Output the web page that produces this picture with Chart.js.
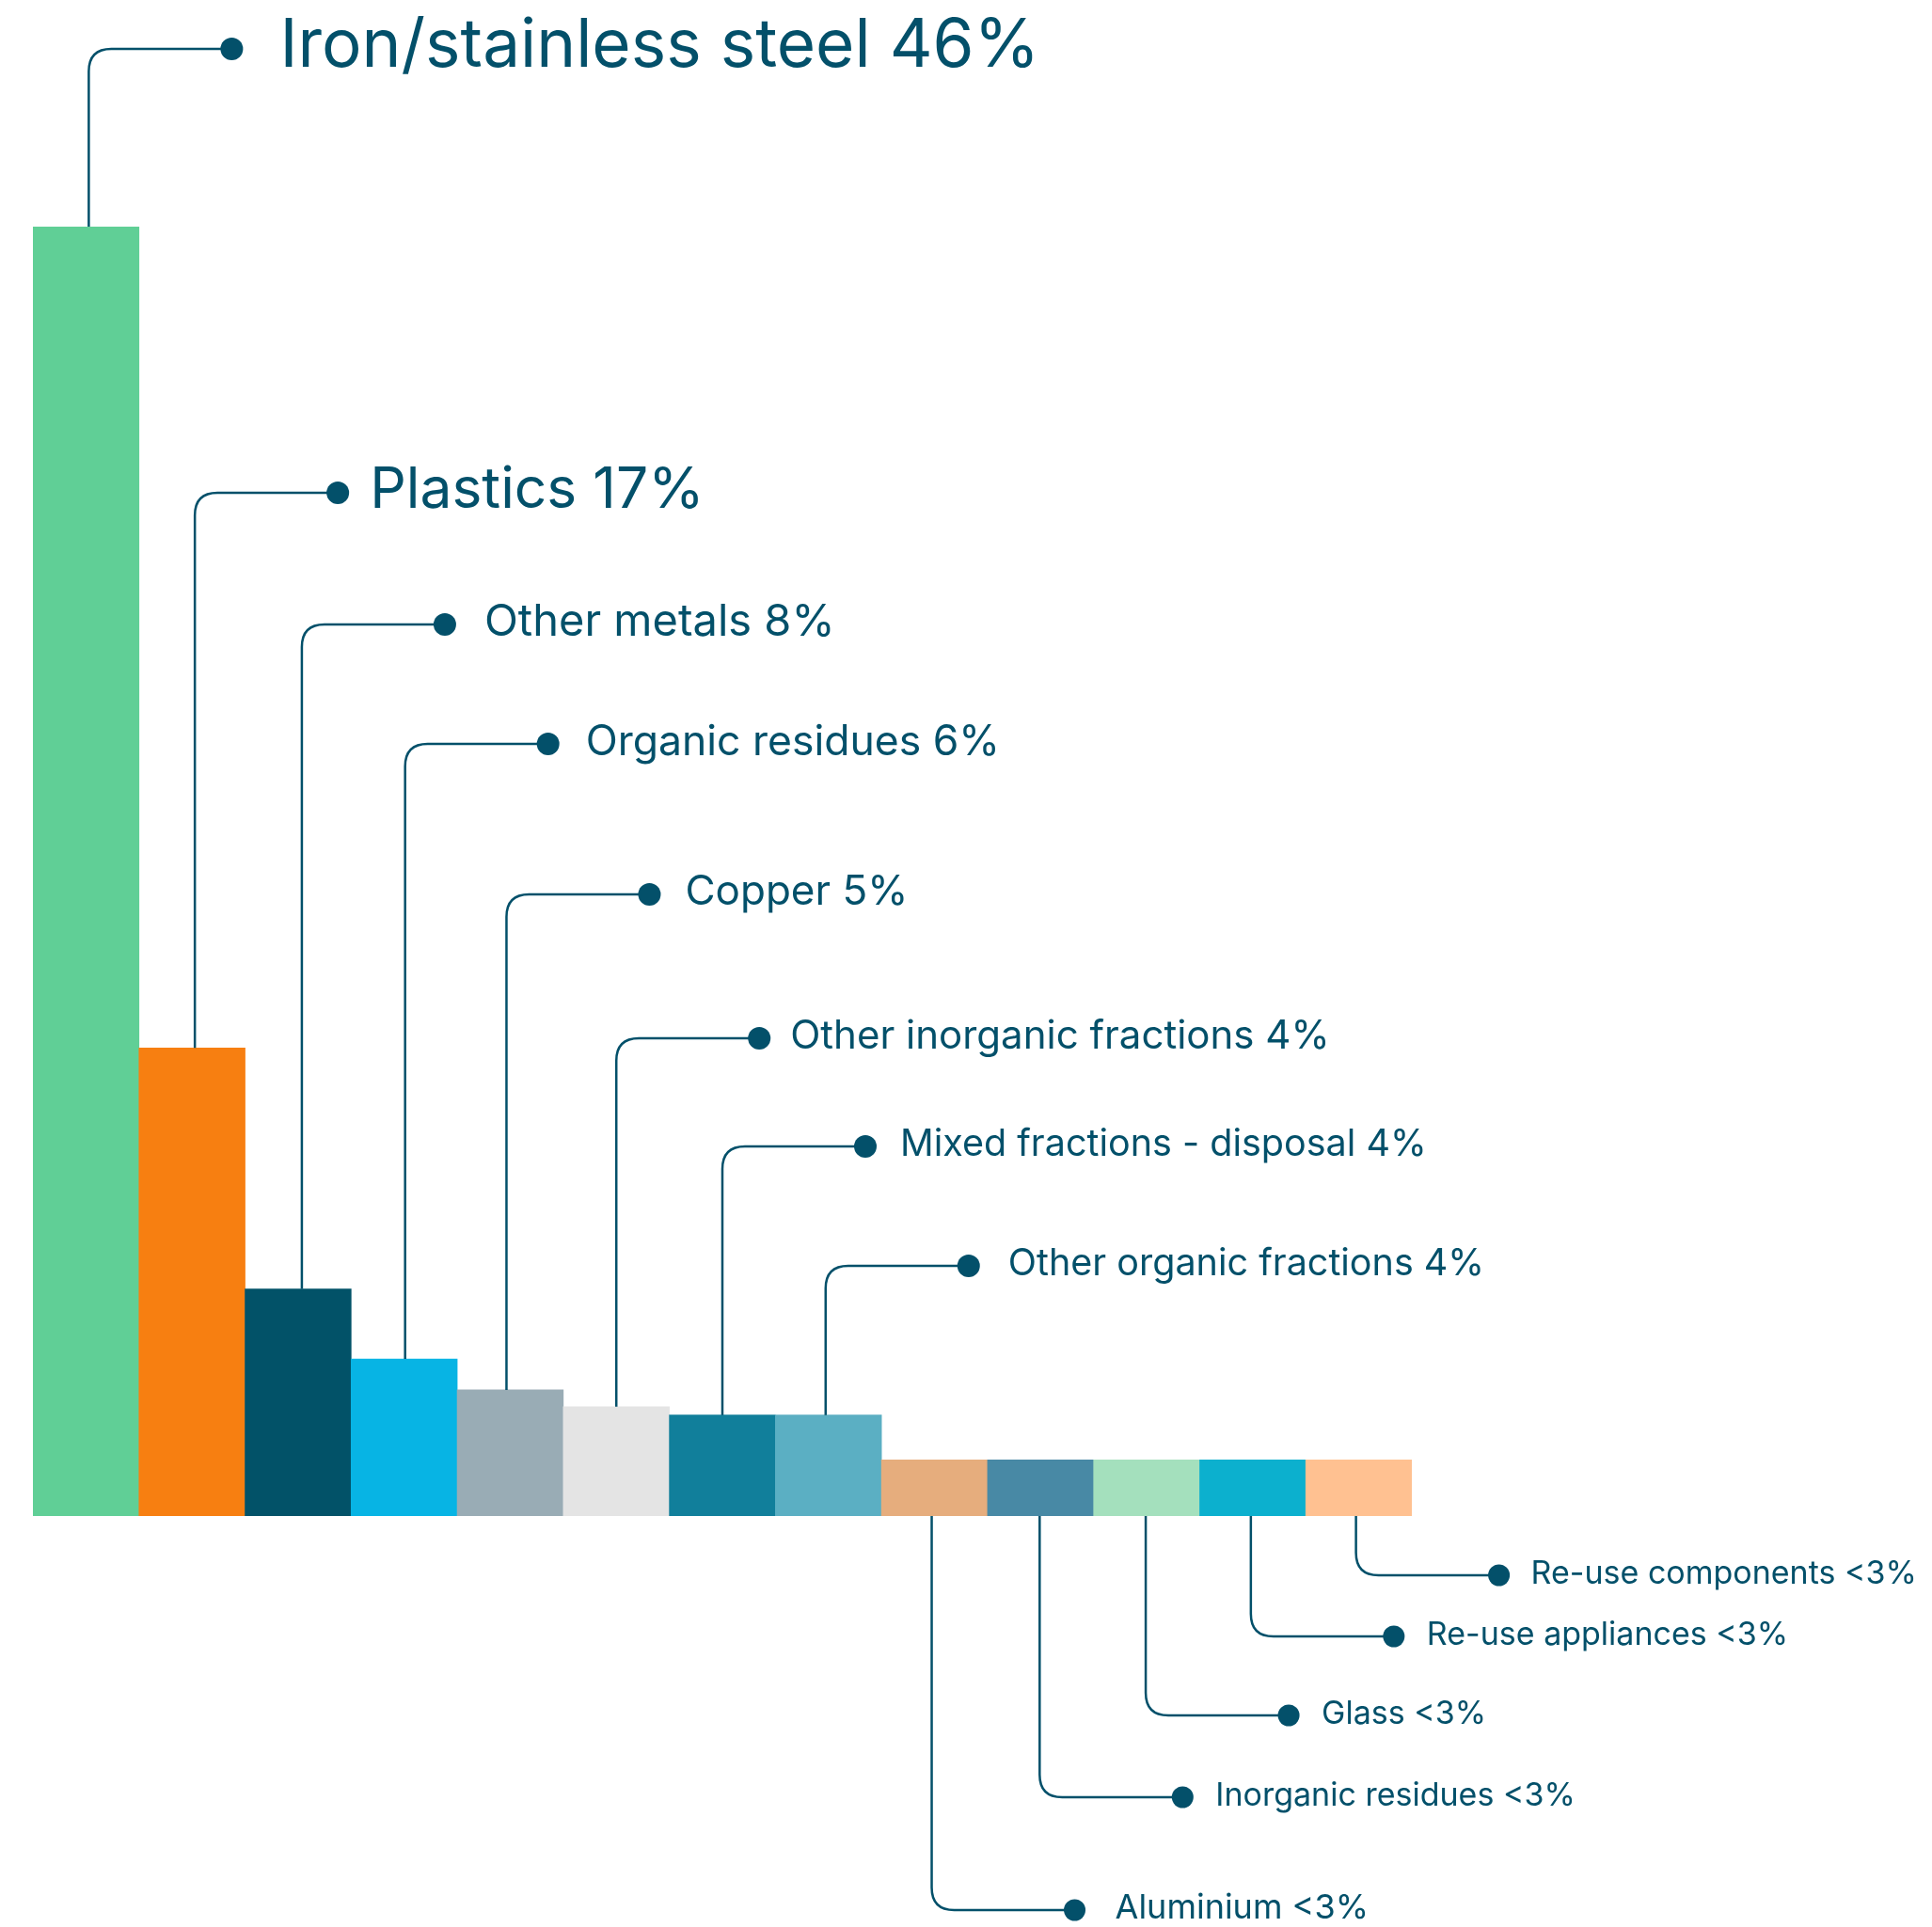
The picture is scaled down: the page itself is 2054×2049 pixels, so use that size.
<!DOCTYPE html>
<html>
<head>
<meta charset="utf-8">
<script src="https://cdn.jsdelivr.net/npm/chart.js@4"></script>
<style>
  html, body { margin: 0; padding: 0; background: #fff; }
  #wrap { width: 2054px; height: 2049px; }
</style>
</head>
<body>
<div id="wrap"><canvas id="wasteChart" width="2054" height="2049"></canvas></div>
<script>
const categories = [
  'Iron/stainless steel', 'Plastics', 'Other metals', 'Organic residues', 'Copper',
  'Other inorganic fractions', 'Mixed fractions - disposal', 'Other organic fractions',
  'Aluminium', 'Inorganic residues', 'Glass', 'Re-use appliances', 'Re-use components'
];
const shares = [46, 16.7, 8.1, 5.6, 4.5, 3.9, 3.6, 3.6, 2, 2, 2, 2, 2];
const shareLabels = ['46%', '17%', '8%', '6%', '5%', '4%', '4%', '4%', '<3%', '<3%', '<3%', '<3%', '<3%'];

const barColors = [
  '#60CF96', //green
  '#F77F11', //orange
  '#025268', //dark teal
  '#07B4E4', //sky blue
  '#99ACB5', //grey blue
  '#E4E4E4', //light grey
  '#117F9B', //teal
  '#5BAFC3', //lt teal
  '#E6AD7D', //tan
  '#4889A5', //steel blue
  '#A4E0BD', //lt green
  '#0CB0CE', //cyan
  '#FFC191'  //peach
];

// callout layout (px): height of the elbow, nudge of the stem, gap dot->text, text size
const calloutY = [52, 524, 664, 791, 951, 1104, 1219, 1346, 2031, 1911, 1824, 1740, 1675];
const stemNudge = [3, 3, 4, 1, -4, 0, 0, -3, -3, -1, -1, -2, -3];
const textGap = [51, 34, 42, 40, 38, 33, 37, 42, 43, 35, 35, 35, 34];
const fontSizes = [71, 60.5, 47, 44.5, 44, 42, 39.5, 39.5, 36, 34, 34, 34, 34];
const INK = '#03506A';

const callouts = {
  id: 'callouts',
  afterDatasetsDraw(chart) {
    const ctx = chart.ctx;
    const meta = chart.getDatasetMeta(0);
    const yScale = chart.scales.y;
    const base = yScale.getPixelForValue(0);
    const r = 24;
    ctx.save();
    ctx.strokeStyle = INK;
    ctx.fillStyle = INK;
    ctx.lineWidth = 2.5;
    meta.data.forEach((bar, i) => {
      const x = bar.x + stemNudge[i];
      const ly = calloutY[i];
      const dotX = x + 152;
      const above = ly < base;
      const startY = above ? yScale.getPixelForValue(shares[i]) : base;
      const dir = above ? -1 : 1;
      ctx.beginPath();
      ctx.moveTo(x, startY);
      ctx.lineTo(x, ly - dir * r);
      ctx.quadraticCurveTo(x, ly, x + r, ly);
      ctx.lineTo(dotX, ly);
      ctx.stroke();
      ctx.beginPath();
      ctx.arc(dotX, ly, above ? 12 : 11.5, 0, Math.PI * 2);
      ctx.fill();
      const fs = fontSizes[i];
      ctx.font = `${fs}px Inter`;
      ctx.textBaseline = 'middle';
      ctx.textAlign = 'left';
      ctx.fillText(`${categories[i]} ${shareLabels[i]}`, dotX + textGap[i], ly - fs * 0.04);
    });
    ctx.restore();
  }
};

const config = {
  type: 'bar',
  data: {
    labels: categories,
    datasets: [{
      data: shares,
      backgroundColor: barColors,
      borderWidth: 0,
      categoryPercentage: 1,
      barPercentage: 1
    }]
  },
  options: {
    responsive: false,
    animation: false,
    devicePixelRatio: 1,
    layout: { padding: { left: 35, right: 553, top: 241, bottom: 437 } },
    scales: {
      x: { display: false },
      y: { display: false, min: 0, max: 46 }
    },
    plugins: {
      legend: { display: false },
      tooltip: { enabled: false }
    }
  },
  plugins: [callouts]
};

new Chart(document.querySelector('#wasteChart').getContext('2d'), config);
</script>
</body>
</html>
